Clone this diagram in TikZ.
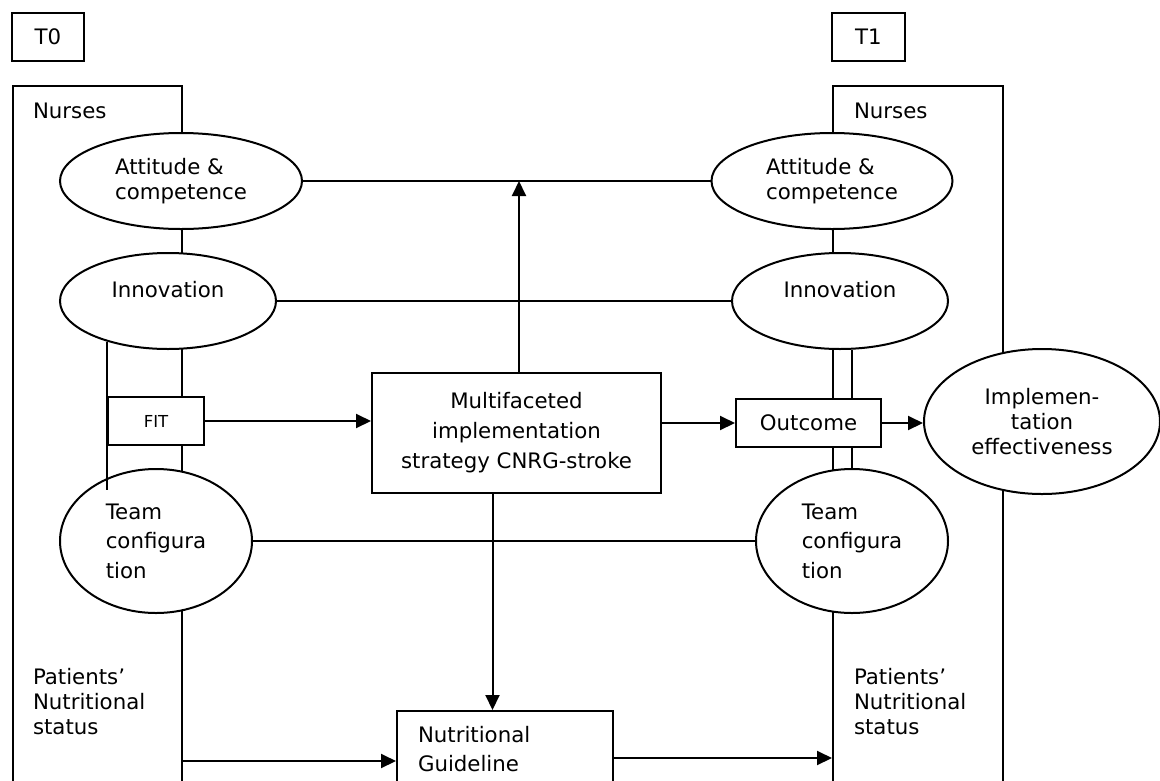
\documentclass[tikz,border=0pt]{standalone}
\usepackage{fontspec}
\setmainfont{DejaVu Sans}
\usetikzlibrary{shapes.geometric,arrows.meta,calc}
\begin{document}
\begin{tikzpicture}[x=1pt,y=-1pt,line width=2pt,
  base/.style={font=\fontsize{21.3}{25}\selectfont},
  lbl/.style={base,inner sep=0pt,anchor=west,align=left},
  oval/.style={draw,ellipse,fill=white,inner sep=0pt,align=left,base},
  box/.style={draw,rectangle,fill=white,inner sep=0pt,base},
  lane/.style={draw,rectangle,inner sep=0pt,anchor=north west,minimum height=740pt},
  arr/.style={-{Triangle[length=15pt,width=14pt]}}]
\useasboundingbox (0,0) rectangle (1160,780);
% lanes
\node (nursesL) [lane,minimum width=169pt] at (12,85) {};
\node (nursesR) [lane,minimum width=170pt] at (832,85) {};
\node (nL) [lbl] at (32,111) {Nurses};
\node (nR) [lbl] at (853,111) {Nurses};
\node (pL) [lbl] at (32,702) {Patients’\\Nutritional\\status};
\node (pR) [lbl] at (853,702) {Patients’\\Nutritional\\status};
% time boxes
\node (t0) [box,minimum width=72pt,minimum height=48pt] at (48,37) {T0};
\node (t1) [box,minimum width=73pt,minimum height=48pt] at (868.5,37) {T1};
% ellipses
\node (attL) [oval,minimum width=242pt,minimum height=96pt] at (181,181) {Attitude \&\\competence};
\node (attR) [oval,minimum width=241pt,minimum height=96pt] at (832,181) {Attitude \&\\competence};
\node (innL) [oval,minimum width=216pt,minimum height=96pt] at (168,301) {\raisebox{11pt}[\height][\depth]{Innovation}};
\node (innR) [oval,minimum width=216pt,minimum height=96pt] at (840,301) {\raisebox{11pt}[\height][\depth]{Innovation}};
\node (teamL) [oval,minimum width=192pt,minimum height=144pt,font=\fontsize{21.3}{29.5}\selectfont] at (156,541) {Team\\configura\\tion};
\node (teamR) [oval,minimum width=192pt,minimum height=144pt,font=\fontsize{21.3}{29.5}\selectfont] at (852,541) {Team\\configura\\tion};
\node (impl) [oval,align=center,minimum width=236pt,minimum height=145pt] at (1042,421.5) {Implemen-\\tation\\effectiveness};
% boxes
\node (fit) [box,minimum width=96pt,minimum height=48pt,font=\fontsize{16.5}{20}\selectfont] at (156,421) {FIT};
\node (mf) [box,align=center,minimum width=289pt,minimum height=120pt,font=\fontsize{21.3}{30}\selectfont] at (516.5,433) {Multifaceted\\implementation\\strategy CNRG-stroke};
\node (out) [box,minimum width=145pt,minimum height=48pt] at (808.5,423) {Outcome};
\node (guide) [box,anchor=north west,align=left,inner xsep=21pt,inner ysep=15.5pt,text width=174pt,font=\fontsize{21.3}{29}\selectfont] at (396,710) {Nutritional\\Guideline};
% connectors
\draw (attL) -- (attR);
\draw (innL) -- (innR);
\draw (teamL) -- (teamR);
\draw (innR.south -| teamR.north) -- (out.north -| teamR.north);
\draw (out.south -| teamR.north) -- (teamR.north);
\draw ([yshift=54pt]fit.north west) -- ([yshift=-44pt]fit.south west);
\draw[arr] (fit.east) -- (fit.east -| mf.west);
\draw[arr] ([xshift=2.5pt]mf.north) -- ([xshift=2.5pt]mf.north |- attL.east);
\draw[arr] (mf.east |- out.west) -- (out.west);
\draw[arr] (out.east) -- (out.east -| impl.west);
\coordinate (mfdown) at ([xshift=-24pt]mf.south);
\draw[arr] (mfdown) -- (mfdown |- guide.north);
\coordinate (gl) at ([yshift=-51pt]guide.north west);
\draw[arr] (nursesL.north east |- gl) -- (gl);
\coordinate (gr) at ([yshift=-48pt]guide.north east);
\draw[arr] (gr) -- (gr -| nursesR.west);
\end{tikzpicture}
\end{document}
